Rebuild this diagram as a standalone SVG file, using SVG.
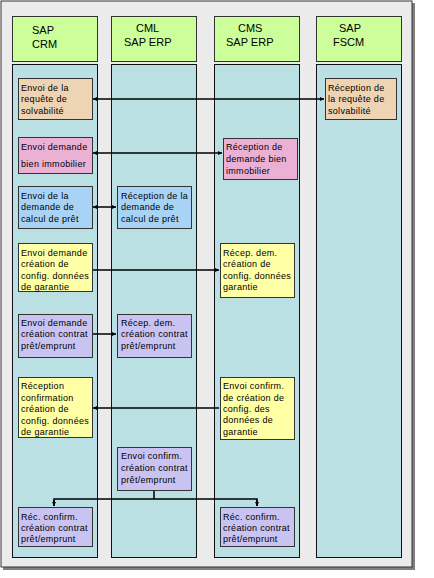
<svg xmlns="http://www.w3.org/2000/svg" width="434" height="578" viewBox="0 0 434 578">
<style>
.hdr{fill:#ccff99;stroke:#333;stroke-width:1}
.lane{fill:#bae0e3;stroke:#111;stroke-width:1}
.n{stroke:#333;stroke-width:1}
.ht{font-family:"Liberation Sans",Arial,sans-serif;font-size:11px;fill:#000}
.t{font-family:"Liberation Sans",Arial,sans-serif;font-size:9px;letter-spacing:0.3px;fill:#000}
.c{fill:none;stroke:#000;stroke-width:1.5}
.tan{fill:#eed4b3}.pink{fill:#ebb1d5}.blue{fill:#a8d3f5}.yel{fill:#ffffa6}.pur{fill:#c9c3f2}
</style>
<defs>
<marker id="ah" viewBox="0 0 6 6" refX="6" refY="3" markerWidth="4" markerHeight="4" orient="auto-start-reverse" markerUnits="userSpaceOnUse">
<path d="M0,0 L6,3 L0,6 z" fill="#000"/>
</marker>
</defs>
<rect x="3" y="3" width="412" height="567" fill="#808080"/>
<rect x="1" y="1" width="411" height="566" fill="#ebebeb" stroke="#333" stroke-width="1"/>
<g id="lane-crm">
<rect class="hdr" x="12.5" y="16.5" width="85" height="45"/>
<text class="ht" x="32" y="34">SAP</text>
<text class="ht" x="32" y="48">CRM</text>
<rect class="lane" x="12.5" y="64.5" width="85" height="493"/>
</g>
<g id="lane-cml">
<rect class="hdr" x="111.5" y="16.5" width="85" height="45"/>
<text class="ht" x="136" y="31.5">CML</text>
<text class="ht" x="124" y="46">SAP ERP</text>
<rect class="lane" x="111.5" y="64.5" width="85" height="493"/>
</g>
<g id="lane-cms">
<rect class="hdr" x="214.5" y="16.5" width="85" height="45"/>
<text class="ht" x="238" y="31.5">CMS</text>
<text class="ht" x="226" y="46">SAP ERP</text>
<rect class="lane" x="214.5" y="64.5" width="85" height="493"/>
</g>
<g id="lane-fscm">
<rect class="hdr" x="316.5" y="16.5" width="85" height="45"/>
<text class="ht" x="339" y="32">SAP</text>
<text class="ht" x="333" y="46">FSCM</text>
<rect class="lane" x="316.5" y="64.5" width="85" height="493"/>
</g>
<g id="connectors">
<line class="c" x1="93" y1="99" x2="324" y2="99" marker-start="url(#ah)" marker-end="url(#ah)"/>
<line class="c" x1="93" y1="153" x2="222" y2="153" marker-start="url(#ah)" marker-end="url(#ah)"/>
<line class="c" x1="93" y1="207" x2="116" y2="207" marker-start="url(#ah)" marker-end="url(#ah)"/>
<line class="c" x1="93" y1="270" x2="219" y2="270" marker-end="url(#ah)"/>
<line class="c" x1="93" y1="334" x2="116" y2="334" marker-end="url(#ah)"/>
<line class="c" x1="219" y1="408" x2="93" y2="408" marker-end="url(#ah)"/>
<line class="c" x1="154" y1="490" x2="154" y2="499"/>
<polyline class="c" points="54,506 54,499 257,499 257,506"/>
<line class="c" x1="54" y1="500" x2="54" y2="506" marker-end="url(#ah)"/>
<line class="c" x1="257" y1="500" x2="257" y2="506" marker-end="url(#ah)"/>
</g>
<g id="n1">
<rect class="n tan" x="18.5" y="78.5" width="74" height="41"/>
<text class="t" x="21" y="91">Envoi de la</text>
<text class="t" x="21" y="102">requête de</text>
<text class="t" x="21" y="113.5">solvabilité</text>
</g>
<g id="n2">
<rect class="n tan" x="325.5" y="78.5" width="71" height="41"/>
<text class="t" x="328" y="91">Réception de</text>
<text class="t" x="328" y="102">la requête de</text>
<text class="t" x="328" y="113.5">solvabilité</text>
</g>
<g id="n3">
<rect class="n pink" x="18.5" y="137.5" width="74" height="36"/>
<text class="t" x="21" y="150">Envoi demande</text>
<text class="t" x="21" y="167">bien immobilier</text>
</g>
<g id="n4">
<rect class="n pink" x="223.5" y="138.5" width="74" height="41"/>
<text class="t" x="226" y="150">Réception de</text>
<text class="t" x="226" y="162">demande bien</text>
<text class="t" x="226" y="174">immobilier</text>
</g>
<g id="n5">
<rect class="n blue" x="18.5" y="186.5" width="74" height="42"/>
<text class="t" x="21" y="199">Envoi de la</text>
<text class="t" x="21" y="210">demande de</text>
<text class="t" x="21" y="222">calcul de prêt</text>
</g>
<g id="n6">
<rect class="n blue" x="117.5" y="186.5" width="74" height="42"/>
<text class="t" x="121" y="199">Réception de la</text>
<text class="t" x="121" y="210">demande de</text>
<text class="t" x="121" y="222">calcul de prêt</text>
</g>
<g id="n7">
<rect class="n yel" x="18.5" y="243.5" width="74" height="48"/>
<text class="t" x="21" y="256">Envoi demande</text>
<text class="t" x="21" y="267">création de</text>
<text class="t" x="21" y="279">config. données</text>
<text class="t" x="21" y="290">de garantie</text>
</g>
<g id="n8">
<rect class="n yel" x="220.5" y="243.5" width="74" height="54"/>
<text class="t" x="223" y="256">Récep. dem.</text>
<text class="t" x="223" y="267">création de</text>
<text class="t" x="223" y="279">config. données</text>
<text class="t" x="223" y="290">garantie</text>
</g>
<g id="n9">
<rect class="n pur" x="18.5" y="314.5" width="74" height="43"/>
<text class="t" x="21" y="326">Envoi demande</text>
<text class="t" x="21" y="337">création contrat</text>
<text class="t" x="21" y="349">prêt/emprunt</text>
</g>
<g id="n10">
<rect class="n pur" x="117.5" y="314.5" width="74" height="43"/>
<text class="t" x="121" y="326">Récep. dem.</text>
<text class="t" x="121" y="337">création contrat</text>
<text class="t" x="121" y="349">prêt/emprunt</text>
</g>
<g id="n11">
<rect class="n yel" x="18.5" y="377.5" width="74" height="60"/>
<text class="t" x="21" y="389">Réception</text>
<text class="t" x="21" y="401">confirmation</text>
<text class="t" x="21" y="412">création de</text>
<text class="t" x="21" y="424">config. données</text>
<text class="t" x="21" y="435">de garantie</text>
</g>
<g id="n12">
<rect class="n yel" x="220.5" y="377.5" width="74" height="62"/>
<text class="t" x="223" y="389">Envoi confirm.</text>
<text class="t" x="223" y="401">de création de</text>
<text class="t" x="223" y="412">config. des</text>
<text class="t" x="223" y="423">données de</text>
<text class="t" x="223" y="435">garantie</text>
</g>
<g id="n13">
<rect class="n pur" x="117.5" y="447.5" width="74" height="43"/>
<text class="t" x="121" y="459">Envoi confirm.</text>
<text class="t" x="121" y="471">création contrat</text>
<text class="t" x="121" y="483">prêt/emprunt</text>
</g>
<g id="n14">
<rect class="n pur" x="18.5" y="507.5" width="74" height="39"/>
<text class="t" x="21" y="520">Réc. confirm.</text>
<text class="t" x="21" y="531">création contrat</text>
<text class="t" x="21" y="542">prêt/emprunt</text>
</g>
<g id="n15">
<rect class="n pur" x="220.5" y="507.5" width="74" height="39"/>
<text class="t" x="223" y="520">Réc. confirm.</text>
<text class="t" x="223" y="531">création contrat</text>
<text class="t" x="223" y="542">prêt/emprunt</text>
</g>
</svg>
